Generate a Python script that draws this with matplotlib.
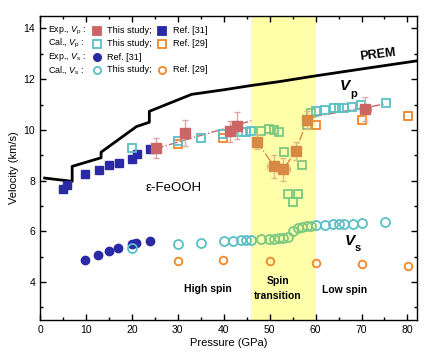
import numpy as np
import matplotlib
matplotlib.use('Agg')
import matplotlib.pyplot as plt
import matplotlib.ticker as ticker

plt.rcParams['font.family'] = ['Liberation Sans', 'DejaVu Sans']
plt.rcParams['mathtext.fontset'] = 'custom'
plt.rcParams['mathtext.rm'] = 'Liberation Sans'
plt.rcParams['mathtext.it'] = 'Liberation Sans:italic'
plt.rcParams['mathtext.bf'] = 'Liberation Sans:bold'

# PREM
prem_p = [1.0, 7.0, 7.0, 13.3, 13.3, 21.0, 23.8, 23.8, 27.5, 33.0, 40.0, 46.0, 52.0, 60.0, 70.0, 82.0]
prem_v = [8.10, 7.97, 8.56, 8.90, 9.12, 10.13, 10.30, 10.73, 11.00, 11.40, 11.58, 11.75, 11.90, 12.13, 12.40, 12.72]

# Exp. Vp, Ref. [31]
ref31_vp_p = [4.9, 5.9, 9.8, 12.9, 15.1, 17.1, 20.1, 21.1, 24.0]
ref31_vp_v = [7.65, 7.83, 8.24, 8.42, 8.60, 8.71, 8.84, 9.05, 9.23]
# Exp. Vs, Ref. [31]
ref31_vs_p = [9.8, 12.7, 15.1, 16.9, 20.0, 21.0, 24.0]
ref31_vs_v = [4.88, 5.05, 5.22, 5.36, 5.49, 5.54, 5.60]

# Exp. Vp, this study (high / low spin)
exp_vp_p = [25.3, 31.5, 41.4, 42.9, 70.8]
exp_vp_v = [9.29, 9.88, 9.94, 10.17, 10.82]
exp_vp_perr = [0.8, 0.8, 1.0, 1.0, 1.2]
exp_vp_verr = [0.40, 0.52, 0.42, 0.52, 0.46]
# Exp. Vp, this study (spin transition)
exp_tr_p = [47.2, 51.0, 53.0, 55.7, 58.2]
exp_tr_v = [9.54, 8.56, 8.44, 9.18, 10.40]
exp_tr_perr = [0.8, 1.5, 1.5, 1.0, 1.0]
exp_tr_verr = [0.30, 0.45, 0.45, 0.35, 0.35]

# linear fits (dash-dot)
fit_hs_p = [25.0, 46.0]
fit_hs_v = [9.25, 10.36]
fit_ls_p = [59.5, 75.2]
fit_ls_v = [10.52, 11.02]

# Cal. Vp, this study
cal_vp_p = [20.0, 30.0, 35.0, 39.9, 41.8, 43.9, 44.9, 46.0,
            60.1, 62.1, 64.1, 65.1, 66.1, 68.0, 69.9, 75.3]
cal_vp_v = [9.29, 9.55, 9.67, 9.84, 9.90, 9.90, 9.91, 9.94,
            10.73, 10.80, 10.85, 10.85, 10.86, 10.89, 10.98, 11.06]
cal_tr_vp_p = [48.1, 49.9, 51.0, 52.1, 53.1, 57.1, 54.1, 56.1, 55.0, 58.1, 59.0]
cal_tr_vp_v = [9.97, 10.05, 10.00, 9.92, 9.11, 8.62, 7.48, 7.48, 7.15, 10.18, 10.67]
# Cal. Vp, Ref. [29]
ref29_vp_p = [30.0, 39.9, 60.1, 70.1, 80.2]
ref29_vp_v = [9.45, 9.67, 10.20, 10.39, 10.56]

# Cal. Vs, this study
cal_vs_p = [20.0, 30.0, 35.0, 40.0, 42.0, 43.8, 44.9, 45.9,
            60.1, 62.1, 63.9, 65.0, 66.1, 68.1, 70.1, 75.2]
cal_vs_v = [5.35, 5.48, 5.54, 5.60, 5.63, 5.65, 5.65, 5.66,
            6.23, 6.26, 6.28, 6.29, 6.29, 6.30, 6.32, 6.36]
cal_tr_vs_p = [48.1, 49.9, 51.0, 52.0, 53.0, 54.0, 55.0, 56.1, 57.1, 58.1, 59.0]
cal_tr_vs_v = [5.68, 5.70, 5.70, 5.72, 5.73, 5.78, 6.00, 6.12, 6.16, 6.19, 6.20]
# Cal. Vs, Ref. [29]
ref29_vs_p = [30.1, 39.9, 50.0, 60.1, 70.1, 80.2]
ref29_vs_v = [4.82, 4.85, 4.81, 4.76, 4.72, 4.65]

c_blue = '#2a2aa6'
c_blue_err = '#b4b4e0'
c_red = '#cc6565'
c_red_err = '#dba8a8'
c_cyan = '#5bbfc6'
c_orange = '#f0882a'
c_green = '#7cc880'
c_brown = '#d88a45'
c_brown_err = '#e0b88a'

fig = plt.figure(figsize=(4.27, 3.58), dpi=100)
ax = fig.add_axes([0.0937, 0.106, 0.882, 0.850])

ax.axvspan(46, 60, color='#ffffaa', zorder=0, lw=0)

ax.plot(prem_p, prem_v, color='k', lw=2.0, zorder=3)

ax.errorbar(ref31_vp_p, ref31_vp_v, xerr=0.7, fmt='s', color=c_blue, ms=5.5,
            ecolor=c_blue_err, elinewidth=1, capsize=2, zorder=4)
ax.errorbar(ref31_vs_p, ref31_vs_v, xerr=0.7, fmt='o', color=c_blue, ms=6,
            ecolor=c_blue_err, elinewidth=1, capsize=2, zorder=4)

ax.plot(fit_hs_p, fit_hs_v, color=c_red, lw=1.0, ls='-.', zorder=3)
ax.plot(fit_ls_p, fit_ls_v, color=c_red, lw=1.0, ls='-.', zorder=3)
ax.plot(exp_tr_p, exp_tr_v, color=c_brown, lw=1.0, ls='-.', zorder=3)

ax.plot(ref29_vp_p, ref29_vp_v, 's', mfc='none', mec=c_orange, mew=1.3, ms=5.5, zorder=4)
ax.plot(cal_vp_p, cal_vp_v, 's', mfc='none', mec=c_cyan, mew=1.3, ms=6, zorder=5)
ax.plot(cal_tr_vp_p, cal_tr_vp_v, 's', mfc='none', mec=c_green, mew=1.3, ms=6, zorder=5)

ax.errorbar(exp_vp_p, exp_vp_v, xerr=exp_vp_perr, yerr=exp_vp_verr, fmt='s', color=c_red,
            ms=6.5, ecolor=c_red_err, elinewidth=1, capsize=2.5, zorder=6)
ax.errorbar(exp_tr_p, exp_tr_v, xerr=exp_tr_perr, yerr=exp_tr_verr, fmt='s', color=c_brown,
            ms=6.5, ecolor=c_brown_err, elinewidth=1, capsize=2.5, zorder=6)

ax.plot(ref29_vs_p, ref29_vs_v, 'o', mfc='none', mec=c_orange, mew=1.3, ms=5.5, zorder=4)
ax.plot(cal_vs_p, cal_vs_v, 'o', mfc='none', mec=c_cyan, mew=1.3, ms=6.5, zorder=5)
ax.plot(cal_tr_vs_p, cal_tr_vs_v, 'o', mfc='none', mec=c_green, mew=1.3, ms=6.5, zorder=5)

ax.set_xlim(0, 82)
ax.set_ylim(2.5, 14.5)
ax.xaxis.set_major_locator(ticker.MultipleLocator(10))
ax.xaxis.set_minor_locator(ticker.MultipleLocator(5))
ax.yaxis.set_major_locator(ticker.MultipleLocator(2))
ax.yaxis.set_minor_locator(ticker.MultipleLocator(1))
ax.tick_params(which='both', direction='in', top=True, right=True, labelsize=7.5, width=1)
ax.tick_params(which='major', length=4)
ax.tick_params(which='minor', length=2.5)
for s in ax.spines.values():
    s.set_linewidth(1.0)
ax.set_xlabel('Pressure (GPa)', fontsize=8, labelpad=2)
ax.set_ylabel('Velocity (km/s)', fontsize=8, labelpad=3)

# legend built by hand
rows_y = [0.950, 0.908, 0.864, 0.822]
row_labels = [r'Exp., $V_\mathrm{p}$ :', r'Cal., $V_\mathrm{p}$ :',
              r'Exp., $V_\mathrm{s}$ :', r'Cal., $V_\mathrm{s}$ :']
row_items = [
    [('s', c_red, c_red, 'This study;'), ('s', c_blue, c_blue, 'Ref. [31]')],
    [('s', 'none', c_cyan, 'This study;'), ('s', 'none', c_orange, 'Ref. [29]')],
    [('o', c_blue, c_blue, 'Ref. [31]')],
    [('o', 'none', c_cyan, 'This study;'), ('o', 'none', c_orange, 'Ref. [29]')],
]
mk_x = [0.150, 0.325]
tx_x = [0.177, 0.352]
for y, lab, items in zip(rows_y, row_labels, row_items):
    ax.text(0.022, y, lab, transform=ax.transAxes, fontsize=6.4, va='center', ha='left')
    for j, (m, fc, ec, t) in enumerate(items):
        ax.plot([mk_x[j]], [y], m, mfc=fc, mec=ec, mew=1.3, ms=5.2,
                transform=ax.transAxes, clip_on=False, zorder=7)
        ax.text(tx_x[j], y, t, transform=ax.transAxes, fontsize=6.6, va='center', ha='left')

ax.text(73.6, 12.96, 'PREM', fontsize=9, fontweight='bold', ha='center', va='center', rotation=7)
ax.text(67.5, 11.72, 'V', fontsize=11, fontweight='bold', style='italic', ha='right', va='center')
ax.text(67.5, 11.42, 'p', fontsize=8, fontweight='bold', ha='left', va='center')
ax.text(68.6, 5.62, 'V', fontsize=11, fontweight='bold', style='italic', ha='right', va='center')
ax.text(68.6, 5.33, 's', fontsize=8, fontweight='bold', ha='left', va='center')
ax.text(29.0, 7.71, 'ε-FeOOH', fontsize=9.5, ha='center', va='center')
ax.text(36.5, 3.71, 'High spin', fontsize=7.5, fontweight='bold', ha='center', va='center')
ax.text(51.8, 3.74, 'Spin\ntransition', fontsize=7.5, fontweight='bold', ha='center', va='center',
        linespacing=1.6)
ax.text(66.3, 3.67, 'Low spin', fontsize=7.5, fontweight='bold', ha='center', va='center')

fig.savefig('out.png', dpi=100)
